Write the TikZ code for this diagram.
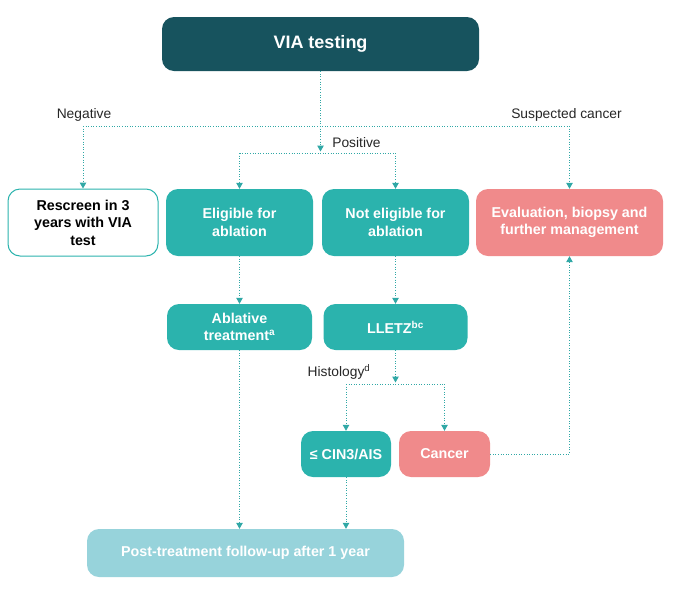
\documentclass[tikz,border=0pt]{standalone}
\usepackage{fontspec}
\setmainfont{Liberation Sans}
\definecolor{viadark}{RGB}{23,83,94}
\definecolor{viateal}{RGB}{43,179,173}
\definecolor{viasalmon}{RGB}{240,138,139}
\definecolor{vialight}{RGB}{151,211,219}
\definecolor{vialine}{RGB}{48,168,166}
\usetikzlibrary{arrows.meta,positioning}

\begin{document}
\begin{tikzpicture}[x=1pt, y=-1pt,
  box/.style={rounded corners=12pt, align=center, text=white, inner sep=0pt, font=\fontsize{14.3}{17.5}\selectfont\bfseries},
  flow/.style={vialine, line width=1pt, dash pattern=on 1pt off 1.6pt, -{Triangle[width=6.5pt,length=6pt]}},
  link/.style={vialine, line width=1pt, dash pattern=on 1pt off 1.6pt},
  lbl/.style={font=\fontsize{13.8}{16}\selectfont, text=black!85}]
  \useasboundingbox (0,0) rectangle (679,592);
  % boxes
  \node[box, fill=viadark, minimum width=317pt, minimum height=54pt, font=\fontsize{18}{20}\selectfont\bfseries] (via) at (320.5,44) {VIA testing};
  \node[box, draw=viateal, line width=1pt, fill=white, text=black, minimum width=150pt, minimum height=67pt] (rescreen) at (83,222.5) {Rescreen in 3\\years with VIA\\test};
  \node[box, fill=viateal, minimum width=147pt, minimum height=67pt] (elig) at (239.5,222.5) {Eligible for\\ablation};
  \node[box, fill=viateal, minimum width=147pt, minimum height=67pt] (nelig) at (395.5,222.5) {Not eligible for\\ablation};
  \node[box, fill=viasalmon, minimum width=187pt, minimum height=67pt] (eval) at (569.5,222.5) {Evaluation, biopsy and\\further management};
  \node[box, fill=viateal, minimum width=145pt, minimum height=46pt] (ablative) at (239.5,327) {Ablative\\treatment\textsuperscript{a}};
  \node[box, fill=viateal, minimum width=144pt, minimum height=46pt] (lletz) at (395.5,327) {LLETZ\textsuperscript{bc}};
  \node[box, fill=viateal, minimum width=90pt, minimum height=46pt] (cin) at (346,454) {≤ CIN3/AIS};
  \node[box, fill=viasalmon, minimum width=91pt, minimum height=46pt] (cancer) at (444.5,454) {Cancer};
  \node[box, fill=vialight, minimum width=317pt, minimum height=48pt] (post) at (245.5,553) {Post-treatment follow-up after 1 year};
  % labels
  \node[lbl] (neglbl) at (84,115) {Negative};
  \node[lbl] (suslbl) at (566.5,115) {Suspected cancer};
  \node[lbl] (poslbl) at (356.5,143) {Positive};
  \node[lbl] (histlbl) at (339,372) {Histology\textsuperscript{d}};
  % bars
  \coordinate (negbar) at (320.5,126);
  \coordinate (posbar) at (320.5,153);
  \coordinate (histbar) at (395.5,384);
  \draw[link] (negbar -| rescreen.north) -- (negbar -| eval.north);
  \draw[link] (via.south) -- (negbar);
  \draw[flow, shorten >=1.5pt] (negbar) -- (posbar);
  \draw[link] (posbar -| elig.north) -- (posbar -| nelig.north);
  \draw[flow] (negbar -| rescreen.north) -- (rescreen.north);
  \draw[flow] (negbar -| eval.north) -- (eval.north);
  \draw[flow] (posbar -| elig.north) -- (elig.north);
  \draw[flow] (posbar -| nelig.north) -- (nelig.north);
  \draw[flow] (elig.south) -- (ablative.north);
  \draw[flow] (nelig.south) -- (lletz.north);
  \draw[flow, shorten >=1.5pt] (lletz.south) -- (histbar);
  \draw[link] (histbar -| cin.north) -- (histbar -| cancer.north);
  \draw[flow] (histbar -| cin.north) -- (cin.north);
  \draw[flow] (histbar -| cancer.north) -- (cancer.north);
  \draw[flow] (cancer.east) -| (eval.south);
  \draw[flow] (ablative.south) -- (ablative.south |- post.north);
  \draw[flow] (cin.south) -- (cin.south |- post.north);
\end{tikzpicture}
\end{document}
